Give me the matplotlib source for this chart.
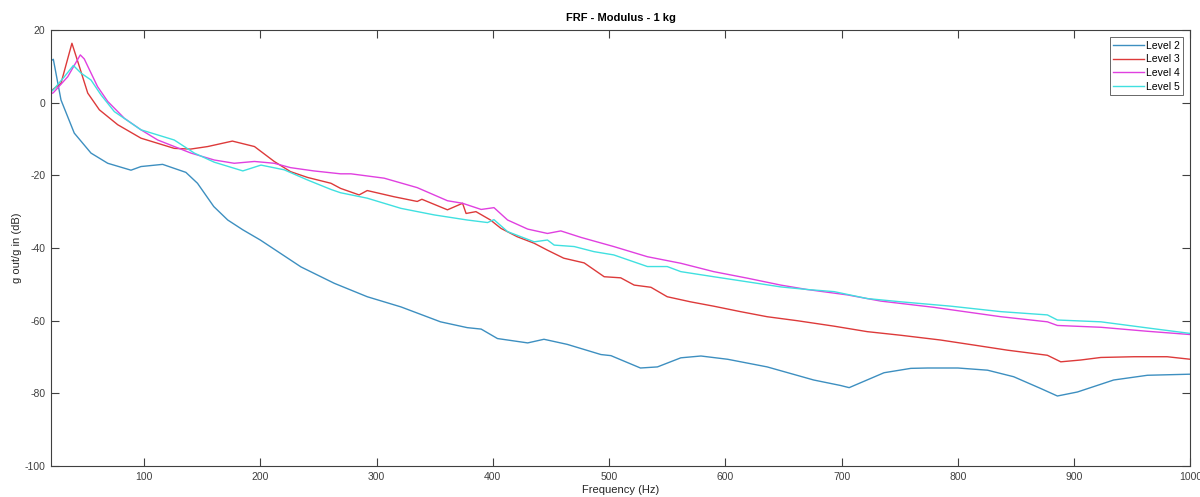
import numpy as np
import matplotlib
matplotlib.use("Agg")
import matplotlib.pyplot as plt

plt.rcParams['font.family'] = ['Liberation Sans', 'DejaVu Sans']
plt.rcParams['axes.unicode_minus'] = False

# Level 2 (blue)
f2 = [20, 22, 28.6, 40, 54.4, 68.8, 88.8, 97.4, 116, 136, 146, 160, 172, 185, 200,
      235, 263.6, 292, 321, 355, 378, 390, 404, 430, 444, 464, 493, 501.6, 527,
      541.6, 561.7, 579, 602, 636, 676, 699, 706.5, 736.5, 759.5, 774, 800, 825.5,
      848, 871, 885.6, 902.8, 934, 963, 1000]
db2 = [11.5, 11.9, 0.7, -8.4, -13.9, -16.7, -18.6, -17.6, -17.0, -19.2, -22.2, -28.6,
       -32.3, -35.0, -37.8, -45.2, -49.7, -53.4, -56.2, -60.3, -61.9, -62.3, -64.9,
       -66.1, -65.1, -66.5, -69.3, -69.6, -73.0, -72.7, -70.2, -69.7, -70.6, -72.7,
       -76.3, -77.8, -78.4, -74.3, -73.1, -73.0, -73.0, -73.6, -75.4, -78.6, -80.7,
       -79.6, -76.3, -75.0, -74.7]

# Level 3 (red)
f3 = [20, 22, 28.6, 38, 44.4, 51.6, 61.6, 77.4, 97.4, 126, 140, 154.8, 176, 195, 212,
      226, 240.7, 260.8, 269, 285, 292, 315, 335, 339, 361, 374, 377, 385.5, 398,
      407, 421, 435.6, 447, 461, 478.6, 495.8, 510, 521.6, 536, 550, 570, 590, 613,
      636, 662, 693.6, 722, 751, 785, 814, 842.7, 877, 888.5, 905.7, 923, 951.5,
      980, 1000]
db3 = [3.0, 3.7, 5.3, 16.3, 9.9, 2.6, -2.0, -6.1, -9.8, -12.6, -12.8, -12.1, -10.6,
       -12.1, -16.2, -19.0, -20.6, -22.2, -23.6, -25.4, -24.2, -25.9, -27.2, -26.6,
       -29.5, -27.7, -30.5, -30.0, -32.3, -34.6, -36.9, -38.7, -40.6, -42.8, -44.1,
       -47.9, -48.2, -50.2, -50.8, -53.4, -54.8, -56.0, -57.5, -58.9, -60.0, -61.5,
       -63.0, -64.0, -65.3, -66.7, -68.1, -69.5, -71.3, -70.8, -70.1, -69.9, -69.9,
       -70.6]

# Level 4 (magenta)
f4 = [20, 22, 34.4, 45.2, 48.6, 60, 68.8, 83, 97.4, 111.8, 140.4, 160.4, 177.6, 195,
      212, 226, 246, 269, 278, 306.6, 335, 361, 374, 390, 401, 412.7, 430, 447,
      458.5, 476, 504, 533, 561.7, 590, 619, 647.7, 670, 705, 733.7, 779, 837, 877,
      885.6, 923, 963, 1000]
db4 = [2.4, 2.7, 7.1, 13.1, 12.0, 4.4, 0.3, -4.3, -7.5, -10.3, -13.9, -15.8, -16.7,
       -16.2, -16.7, -17.9, -18.8, -19.6, -19.6, -20.8, -23.4, -27.0, -27.7, -29.4,
       -28.9, -32.3, -34.8, -36.0, -35.3, -37.1, -39.6, -42.4, -44.2, -46.5, -48.3,
       -50.2, -51.4, -52.9, -54.6, -56.3, -58.9, -60.3, -61.3, -61.8, -62.9, -63.8]

# Level 5 (cyan)
f5 = [20, 22, 31.5, 39.2, 45.8, 54.4, 63, 74.5, 97.4, 126, 143.3, 160.4, 185, 200.6,
      220.6, 240.7, 260.8, 269, 292, 321, 349.6, 378, 395.5, 401, 412.7, 435.6, 447,
      452.8, 470, 487, 504, 533, 550, 561.7, 590, 619, 647.7, 670, 693.6, 722, 751,
      794, 837, 877, 885.6, 923, 966, 1000]
db5 = [3.0, 3.5, 7.1, 10.2, 8.1, 6.2, 2.1, -2.5, -7.5, -10.3, -13.9, -16.4, -18.8,
       -17.2, -18.5, -21.3, -23.9, -24.8, -26.3, -29.1, -30.9, -32.3, -33.0, -32.2,
       -35.5, -38.3, -37.8, -39.2, -39.6, -41.0, -41.9, -45.1, -45.1, -46.5, -47.9,
       -49.3, -50.7, -51.4, -52.0, -53.9, -54.8, -56.0, -57.5, -58.4, -59.8, -60.3,
       -62.1, -63.5]

labels = ['Level 2', 'Level 3', 'Level 4', 'Level 5']
colors = ['#3d8fc0', '#dd3a3a', '#e040e0', '#40e0e0']

fig = plt.figure(figsize=(12, 4.97), dpi=100)
ax = fig.add_axes([0.0425, 0.062, 0.9495, 0.878])

for fx, dbx, lab, c in zip([f2, f3, f4, f5], [db2, db3, db4, db5], labels, colors):
    ax.plot(fx, dbx, color=c, lw=1.0, label=lab)

ax.set_xlim(20, 1000)
ax.set_ylim(-100, 20)
ax.set_xticks(np.arange(100, 1001, 100))
ax.set_yticks(np.arange(-100, 21, 20))

grey = '#404040'
for s in ax.spines.values():
    s.set_color(grey)
    s.set_linewidth(0.8)
ax.tick_params(direction='in', length=6, width=0.8, color=grey, labelcolor=grey,
               labelsize=7.5, top=True, right=True, pad=4)

ax.set_title('FRF - Modulus - 1 kg', fontsize=8, fontweight='bold', pad=6)
ax.set_xlabel('Frequency (Hz)', fontsize=8, color='#262626', labelpad=2)
ax.set_ylabel('g out/g in (dB)', fontsize=8, color='#262626', labelpad=2)

leg = ax.legend(loc='upper right', fontsize=7.5, frameon=True, fancybox=False,
                borderaxespad=0.7, handlelength=2.9, handletextpad=0.2,
                labelspacing=0.35, borderpad=0.35)
leg.get_frame().set_edgecolor(grey)
leg.get_frame().set_linewidth(0.7)

fig.savefig('out.png', dpi=100)
